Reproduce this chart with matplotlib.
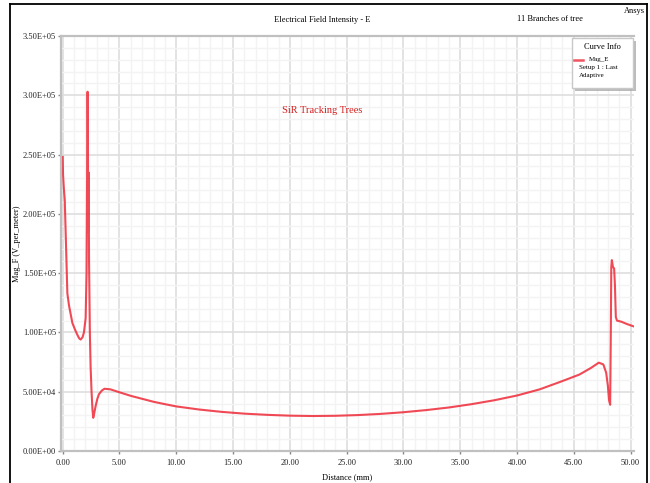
import matplotlib
matplotlib.use("Agg")
import matplotlib.pyplot as plt
from matplotlib.ticker import MultipleLocator, FormatStrFormatter
from matplotlib.patches import Rectangle
from matplotlib.lines import Line2D

plt.rcParams['font.family'] = ['Liberation Serif', 'DejaVu Serif']

# Mag_E along the tree branch (distance in mm, field in V/m)
distance = [0.00, 0.03, 0.11, 0.18, 0.32, 0.41, 0.55, 0.85, 1.10, 1.29,
            1.45, 1.58, 1.75, 1.87, 2.02, 2.10, 2.19, 2.22, 2.25, 2.28,
            2.32, 2.39, 2.46, 2.54, 2.62, 2.69, 2.78, 2.90, 3.05, 3.20,
            3.45, 3.68, 4.20, 5.00, 6.00, 7.00,
            8.00, 9.00, 10.0, 12.0, 14.0, 16.0, 18.0, 20.0, 22.0, 24.0,
            26.0, 28.0, 30.0, 32.0, 34.0, 36.0, 38.0, 40.0, 42.0, 44.0,
            45.5, 46.5, 47.2, 47.6, 47.85, 48.0, 48.1, 48.2, 48.25, 48.3,
            48.35, 48.45, 48.55, 48.62, 48.7, 48.8, 49.2, 49.7, 50.3]
mag_e = [2.48e5, 2.33e5, 2.20e5, 2.12e5, 1.64e5, 1.33e5, 1.23e5, 1.08e5, 1.02e5, 9.8e4,
         9.5e4, 9.4e4, 9.6e4, 1.0e5, 1.12e5, 1.50e5, 3.03e5, 2.60e5, 1.85e5, 2.35e5,
         1.60e5, 1.0e5, 7.0e4, 5.0e4, 3.5e4, 2.8e4, 3.2e4, 3.8e4, 4.4e4, 4.8e4,
         5.1e4, 5.25e4, 5.2e4, 4.95e4, 4.65e4, 4.4e4,
         4.15e4, 3.95e4, 3.76e4, 3.5e4, 3.3e4, 3.15e4, 3.05e4, 2.98e4, 2.95e4, 2.97e4,
         3.03e4, 3.13e4, 3.27e4, 3.45e4, 3.67e4, 3.95e4, 4.28e4, 4.68e4, 5.2e4, 5.9e4,
         6.45e4, 7.0e4, 7.45e4, 7.3e4, 6.6e4, 5.5e4, 4.3e4, 3.9e4, 9.0e4, 1.55e5,
         1.61e5, 1.55e5, 1.54e5, 1.40e5, 1.13e5, 1.10e5, 1.09e5, 1.07e5, 1.05e5]

x_ticks = [0, 5, 10, 15, 20, 25, 30, 35, 40, 45, 50]
y_ticks = [0, 5e4, 1e5, 1.5e5, 2e5, 2.5e5, 3e5, 3.5e5]

W, H = 650, 483
fig = plt.figure(figsize=(6.5, 4.83), dpi=100)
ax = fig.add_axes([61 / W, 1 - 451 / H, 573 / W, 415 / H])

# grid: faint minor lines, light major lines
ax.xaxis.set_minor_locator(MultipleLocator(1))
ax.yaxis.set_minor_locator(MultipleLocator(1e4))
ax.grid(which='minor', color='#f3f3f3', lw=1.0)
ax.grid(which='major', color='#dedede', lw=1.2)
ax.set_axisbelow(True)

ax.plot(distance, mag_e, color='#ee2a38', lw=1.5, alpha=0.85, solid_joinstyle='round')

ax.set_xlim(-0.15, 50.3)
ax.set_ylim(0, 3.5e5)
ax.set_xticks(x_ticks)
ax.set_yticks(y_ticks)
ax.xaxis.set_major_formatter(FormatStrFormatter('%.2f'))
ax.yaxis.set_major_formatter(FormatStrFormatter('%.2E'))

for s in ['left', 'bottom', 'top']:
    ax.spines[s].set_color('#c0c0c0')
    ax.spines[s].set_linewidth(1.6)
ax.spines['right'].set_visible(False)

ax.tick_params(which='major', length=2, width=1, color='#888888',
               labelsize=6, pad=1.5, labelcolor='#222222')
ax.tick_params(axis='x', which='major', pad=4)
ax.tick_params(which='minor', length=2, width=1.2, color='#666666', direction='inout')

ax.set_xlabel('Distance (mm)', fontsize=6, labelpad=4)
ax.set_ylabel('Mag_F (V_per_meter)', fontsize=6, labelpad=1)

fig.text(322 / W, 1 - 20 / H, 'Electrical Field Intensity - E', fontsize=6,
         ha='center', va='center')
fig.text(550 / W, 1 - 19 / H, '11 Branches of tree', fontsize=6,
         ha='center', va='center')
fig.text(645 / W, 1 - 11 / H, 'Ansys', fontsize=6, ha='right', va='center')
ax.text(0.455, 0.82, 'SiR Tracking Trees', transform=ax.transAxes, fontsize=7.5,
        color='#d42020', ha='center', va='center')

# curve info box with drop shadow
fig.add_artist(Rectangle((575 / W, 1 - 91 / H), 61 / W, 50 / H,
                         transform=fig.transFigure, facecolor='#a0a0a0',
                         edgecolor='none', alpha=0.7))
fig.add_artist(Rectangle((572 / W, 1 - 88 / H), 61 / W, 50 / H,
                         transform=fig.transFigure, facecolor='white',
                         edgecolor='#c8c8c8', lw=1))
fig.text(602 / W, 1 - 47 / H, 'Curve Info', fontsize=6, ha='center', va='center')
fig.add_artist(Line2D([574 / W, 583 / W], [1 - 59.5 / H, 1 - 59.5 / H],
                      transform=fig.transFigure, color='#ee2a38', lw=1.8, alpha=0.8))
fig.text(589 / W, 1 - 59.5 / H, 'Mag_E', fontsize=5, ha='left', va='center')
fig.text(579 / W, 1 - 68 / H, 'Setup 1 : Last', fontsize=5, ha='left', va='center')
fig.text(579 / W, 1 - 76 / H, 'Adaptive', fontsize=5, ha='left', va='center')

# outer frame
for xs, ys in [([10, 10], [4, 483]), ([10, 647], [4, 4]), ([647, 647], [4, 483])]:
    fig.add_artist(Line2D([v / W for v in xs], [1 - v / H for v in ys],
                          transform=fig.transFigure, color='black', lw=1.3))

fig.savefig('out.png', dpi=100, facecolor='white')
